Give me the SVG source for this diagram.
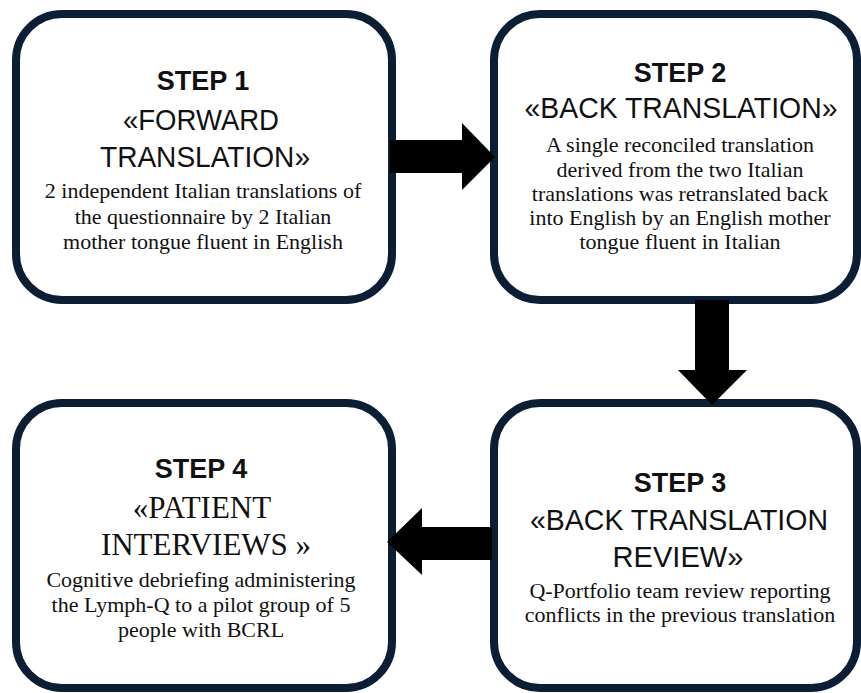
<svg xmlns="http://www.w3.org/2000/svg" width="861" height="693" viewBox="0 0 861 693">
<style>
.box{fill:#fff;stroke:#0c1e33;stroke-width:8}
.step{font-family:"Liberation Sans",Arial,sans-serif;font-weight:bold;font-size:27px;fill:#111;text-anchor:middle}
.head{font-family:"Liberation Sans",Arial,sans-serif;font-size:30px;fill:#111;text-anchor:middle}
.heads{font-family:"Liberation Serif","Times New Roman",serif;font-size:31px;fill:#111;text-anchor:middle}
.body{font-family:"Liberation Serif","Times New Roman",serif;font-size:22px;fill:#111;text-anchor:middle}
.arrow{fill:#000}
</style>
<rect width="861" height="693" fill="#fff"/>
<g id="step1">
<rect class="box" x="16" y="14" width="376" height="286" rx="46"/>
<text class="step" x="203" y="90">STEP 1</text>
<text class="head" x="201" y="130" textLength="156" lengthAdjust="spacingAndGlyphs">«FORWARD</text>
<text class="head" x="205" y="167" textLength="210" lengthAdjust="spacingAndGlyphs">TRANSLATION»</text>
<text class="body" x="203" y="198">2 independent Italian translations of</text>
<text class="body" x="203" y="224">the questionnaire by 2 Italian</text>
<text class="body" x="203" y="249">mother tongue fluent in English</text>
</g>
<g id="step2">
<rect class="box" x="494" y="14" width="363" height="286" rx="46"/>
<text class="step" x="680" y="82">STEP 2</text>
<text class="head" x="681" y="118" textLength="313" lengthAdjust="spacingAndGlyphs">«BACK TRANSLATION»</text>
<text class="body" x="680" y="152">A single reconciled translation</text>
<text class="body" x="680" y="177">derived from the two Italian</text>
<text class="body" x="680" y="201">translations was retranslated back</text>
<text class="body" x="680" y="225">into English by an English mother</text>
<text class="body" x="680" y="249">tongue fluent in Italian</text>
</g>
<g id="step3">
<rect class="box" x="494" y="403" width="363" height="285" rx="46"/>
<text class="step" x="680" y="492">STEP 3</text>
<text class="head" x="679" y="530" textLength="298" lengthAdjust="spacingAndGlyphs">«BACK TRANSLATION</text>
<text class="head" x="678" y="567" textLength="131" lengthAdjust="spacingAndGlyphs">REVIEW»</text>
<text class="body" x="680" y="598">Q-Portfolio team review reporting</text>
<text class="body" x="680" y="622">conflicts in the previous translation</text>
</g>
<g id="step4">
<rect class="box" x="16" y="403" width="376" height="285" rx="46"/>
<text class="step" x="201" y="478">STEP 4</text>
<text class="heads" x="202" y="518">«PATIENT</text>
<text class="heads" x="206" y="555">INTERVIEWS »</text>
<text class="body" x="201" y="587">Cognitive debriefing administering</text>
<text class="body" x="201" y="612">the Lymph-Q to a pilot group of 5</text>
<text class="body" x="201" y="637">people with BCRL</text>
</g>
<g id="connectors">
<polygon class="arrow" points="390,140 462,140 462,123 495,157 462,190 462,173 390,173"/>
<polygon class="arrow" points="695,300 729,300 729,370 747,370 712,405 678,370 695,370"/>
<polygon class="arrow" points="492,527 422,527 422,508 387,542 422,575 422,560 492,560"/>
</g>
</svg>
